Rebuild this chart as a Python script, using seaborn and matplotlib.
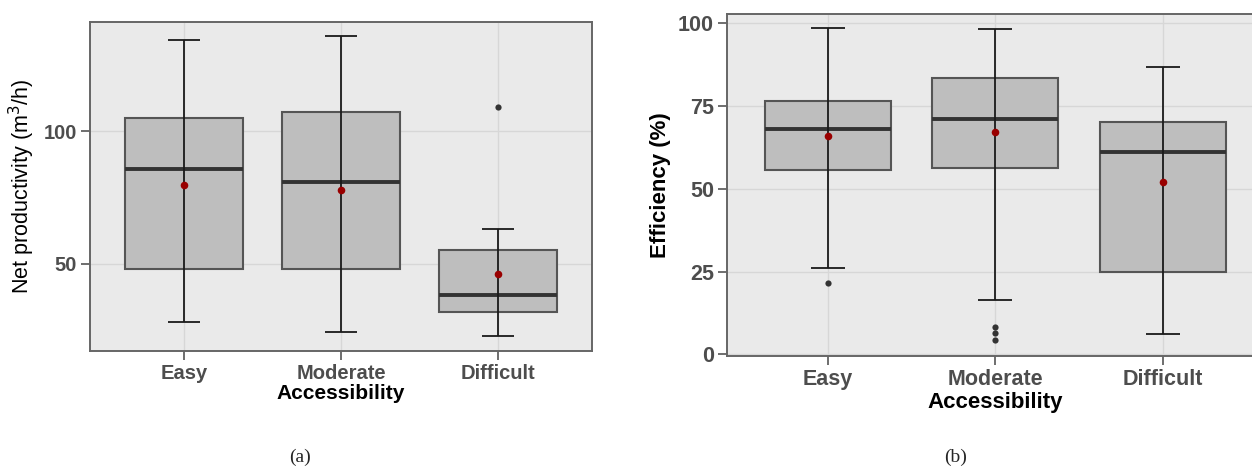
import numpy as np
import pandas as pd
import matplotlib.pyplot as plt
import seaborn as sns

# %%
categories = ["Easy", "Moderate", "Difficult"]

# (a) net productivity, m3/h
prod_whislo = [27.9, 24.3, 22.8]
prod_q1 = [48.1, 47.9, 31.9]
prod_med = [85.6, 80.9, 38.2]
prod_q3 = [104.8, 107.0, 55.2]
prod_whishi = [134.3, 135.8, 63.1]
prod_mean = [79.5, 77.9, 46.0]
prod_out_cat = ["Difficult"]
prod_out_val = [109.0]

# (b) efficiency, %
eff_whislo = [26.0, 16.4, 6.1]
eff_q1 = [55.6, 56.2, 25.0]
eff_med = [68.1, 71.2, 61.1]
eff_q3 = [76.6, 83.5, 70.2]
eff_whishi = [98.5, 98.2, 86.8]
eff_mean = [65.9, 67.1, 52.0]
eff_out_cat = ["Easy", "Moderate", "Moderate", "Moderate"]
eff_out_val = [21.6, 8.3, 6.3, 4.3]

# %%
sns.set_style("darkgrid", {
  "axes.facecolor": "#EAEAEA",
  "grid.color": "#D7D7D7",
  "axes.edgecolor": "#666666",
})
plt.rcParams["font.family"] = ["Liberation Sans", "DejaVu Sans"]


def draw_panel(ax, whislo, q1, med, q3, whishi, mean, out_cat, out_val,
               ylim, yticks, ylabel, ylabel_bold, fs_tick, fs_label,
               fs_ylabel, capsize):
  pos = np.arange(len(categories))
  stats = [
    dict(label=c, whislo=a, q1=b, med=m, q3=d, whishi=e, fliers=[])
    for c, a, b, m, d, e in zip(categories, whislo, q1, med, q3, whishi)
  ]
  ax.bxp(
    stats, positions=pos, widths=0.75, patch_artist=True,
    showcaps=False, showfliers=False,
    boxprops=dict(facecolor="#BEBEBE", edgecolor="#555555", linewidth=1.5),
    medianprops=dict(color="#333333", linewidth=2.8),
    whiskerprops=dict(linewidth=0),
    zorder=2,
  )
  # whole-range whisker drawn over the box, ggplot style
  lo = np.array(whislo)
  hi = np.array(whishi)
  ax.errorbar(
    pos, (lo + hi) / 2, yerr=(hi - lo) / 2, fmt="none",
    ecolor="#1a1a1a", elinewidth=1.3, capsize=capsize, capthick=1.3, zorder=3,
  )
  out_df = pd.DataFrame({"x": [categories.index(c) for c in out_cat], "y": out_val})
  sns.scatterplot(data=out_df, x="x", y="y", color="#333333", s=20,
                  linewidth=0, ax=ax, zorder=4)
  mean_df = pd.DataFrame({"x": pos, "y": mean})
  sns.scatterplot(data=mean_df, x="x", y="y", color="#990000", s=30,
                  linewidth=0, ax=ax, zorder=5)

  ax.set_xlim(-0.6, 2.6)
  ax.set_ylim(*ylim)
  ax.set_xticks(pos)
  ax.set_xticklabels(categories)
  ax.set_yticks(yticks)
  ax.grid(True, color="#D7D7D7", linewidth=1)
  ax.set_axisbelow(True)
  for s in ax.spines.values():
    s.set_visible(True)
    s.set_color("#666666")
    s.set_linewidth(1.4)
  ax.tick_params(axis="both", which="major", length=6.5, width=1.2,
                 color="#555555", labelcolor="#4D4D4D", labelsize=fs_tick,
                 pad=3, bottom=True, left=True)
  for t in ax.get_xticklabels() + ax.get_yticklabels():
    t.set_fontweight("bold")
  ax.set_xlabel("Accessibility", fontsize=fs_label, fontweight="bold",
                color="black", labelpad=1)
  ax.set_ylabel(ylabel, fontsize=fs_ylabel,
                fontweight="bold" if ylabel_bold else "normal",
                color="black", labelpad=5)


fig = plt.figure(figsize=(12.52, 4.68), dpi=100)
ax_a = fig.add_axes([0.0719, 0.2506, 0.4010, 0.7024])
ax_b = fig.add_axes([0.5809, 0.2393, 0.4281, 0.7308])

draw_panel(ax_a, prod_whislo, prod_q1, prod_med, prod_q3, prod_whishi,
           prod_mean, prod_out_cat, prod_out_val,
           (17.2, 141.1), [50, 100], "Net productivity (m$^3$/h)", False,
           14.5, 15, 15.5, 11.5)
draw_panel(ax_b, eff_whislo, eff_q1, eff_med, eff_q3, eff_whishi,
           eff_mean, eff_out_cat, eff_out_val,
           (-0.5, 102.8), [0, 25, 50, 75, 100], "Efficiency (%)", True,
           15.5, 16, 16, 12)

fig.text(300 / 1252, 1 - 457 / 468, "(a)", ha="center", va="center",
         fontsize=14, family="Liberation Serif")
fig.text(956 / 1252, 1 - 457 / 468, "(b)", ha="center", va="center",
         fontsize=14, family="Liberation Serif")

plt.savefig("out.png", dpi=100)
